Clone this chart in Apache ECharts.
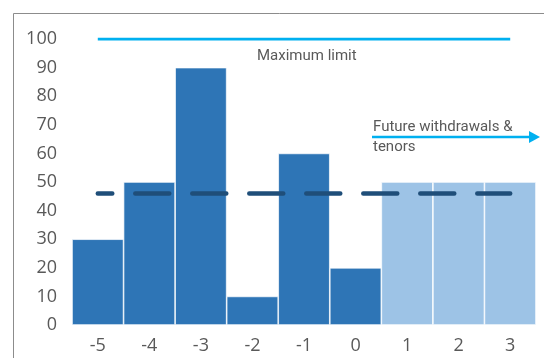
<!DOCTYPE html>
<html>
<head>
<meta charset="utf-8">
<script src="https://cdn.jsdelivr.net/npm/echarts@6/dist/echarts.min.js"></script>
<style>
  html, body { margin: 0; padding: 0; background: #fff; }
  #chart { width: 544px; height: 358px; }
</style>
</head>
<body>
<div id="chart"></div>
<script>
// Periods relative to today: past withdrawals (-5..0) and future ones (1..3)
const periods = ['-5', '-4', '-3', '-2', '-1', '0', '1', '2', '3'];
const withdrawals = [30, 50, 90, 10, 60, 20, 50, 50, 50];
const isFuture = [false, false, false, false, false, false, true, true, true];
const maximumLimit = [100, 100, 100, 100, 100, 100, 100, 100, 100];
const averageLevel = [46, 46, 46, 46, 46, 46, 46, 46, 46];
const yTicks = { min: 0, max: 100, step: 10 };

const textGrey = '#595959';
const chart = echarts.init(document.getElementById('chart'), null, { renderer: 'canvas' });

const barData = withdrawals.map((v, i) => ({
  value: v,
  itemStyle: { color: isFuture[i] ? '#9dc3e6' : '#2e75b6' }
}));

chart.setOption({
  animation: false,
  backgroundColor: '#fff',
  grid: { left: 72, right: 8, top: 39, bottom: 33, containLabel: false },
  xAxis: {
    type: 'category',
    data: periods,
    axisLine: { show: false },
    axisTick: { show: false },
    axisLabel: { color: textGrey, fontFamily: 'Open Sans', fontSize: 18, margin: 12 }
  },
  yAxis: {
    type: 'value',
    min: yTicks.min,
    max: yTicks.max,
    interval: yTicks.step,
    axisLine: { show: false },
    axisTick: { show: false },
    splitLine: { show: false },
    axisLabel: { color: textGrey, fontFamily: 'Open Sans', fontSize: 18, margin: 15 }
  },
  series: [
    {
      type: 'bar',
      data: barData,
      barCategoryGap: '0%',
      itemStyle: { borderColor: '#fff', borderWidth: 0.7 },
      z: 2
    },
    {
      type: 'line',
      data: maximumLimit,
      symbol: 'none',
      lineStyle: { color: '#00b0f0', width: 3 },
      z: 3
    },
    {
      type: 'line',
      data: averageLevel,
      symbol: 'none',
      lineStyle: {
        color: '#1f4e79',
        width: 4.5,
        type: [34, 23],
        dashOffset: 19.5,
        cap: 'round'
      },
      z: 4
    }
  ],
  graphic: [
    {
      type: 'rect',
      shape: { x: 13.5, y: 13.5, width: 700, height: 500 },
      style: { fill: 'none', stroke: '#8c8c8c', lineWidth: 1 },
      silent: true
    },
    {
      type: 'text',
      left: 257, top: 49,
      style: { text: 'Maximum limit', fill: textGrey, font: '15px Roboto' }
    },
    {
      type: 'text',
      left: 373, top: 117,
      style: { text: 'Future withdrawals &\ntenors', fill: textGrey, font: '15px Roboto', lineHeight: 20 }
    },
    {
      type: 'line',
      shape: { x1: 372, y1: 137, x2: 531, y2: 137 },
      style: { stroke: '#00b0f0', lineWidth: 2.5 },
      z: 10
    },
    {
      type: 'polygon',
      shape: { points: [[529, 131], [540, 137], [529, 143]] },
      style: { fill: '#00b0f0' },
      z: 10
    }
  ]
});
</script>
</body>
</html>
